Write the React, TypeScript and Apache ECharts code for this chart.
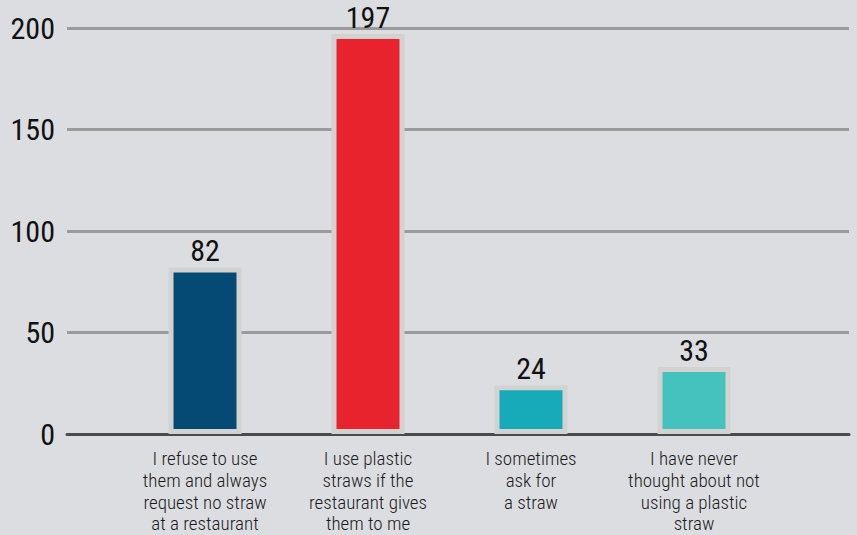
import React, { useEffect, useRef } from "react";
import * as echarts from "echarts";

const categories = [
  "I refuse to use\nthem and always\nrequest no straw\nat a restaurant",
  "I use plastic\nstraws if the\nrestaurant gives\nthem to me",
  "I sometimes\nask for\na straw",
  "I have never\nthought about not\nusing a plastic\nstraw",
];
const values = [82, 197, 24, 33];
const barColors = ["#054a74", "#e9232e", "#17aab8", "#45c1be"];
const yTicks = [0, 50, 100, 150, 200];

const FONT = "'Roboto Condensed', 'Liberation Sans Narrow', 'DejaVu Sans Condensed', Roboto, sans-serif";

export default function App() {
  const ref = useRef<HTMLDivElement>(null);
  useEffect(() => {
    if (!ref.current) return;
    const chart = echarts.init(ref.current, undefined, { renderer: "svg" });
    const yMin = yTicks[0];
    const yMax = yTicks[yTicks.length - 1];
    const yInt = yTicks[1] - yTicks[0];
    chart.setOption({
      animation: false,
      backgroundColor: "#dcdde0",
      grid: [
        { left: 67, right: 8, top: 28, bottom: 101 },
        { left: 123.5, width: 652, top: 28, bottom: 101 },
      ],
      xAxis: [
        {
          gridIndex: 0,
          type: "value",
          min: 0,
          max: 1,
          axisLine: { show: true, onZero: false, lineStyle: { color: "#4a4b4b", width: 3 } },
          axisTick: { show: false },
          axisLabel: { show: false },
          splitLine: { show: false },
        },
        {
          gridIndex: 1,
          type: "category",
          data: categories,
          axisLine: { show: false },
          axisTick: { show: false },
          axisLabel: {
            interval: 0,
            margin: 14,
            color: "#1a1a1a",
            fontFamily: FONT,
            fontWeight: 300,
            fontSize: 19,
            lineHeight: 21.7,
            align: "center",
          },
        },
      ],
      yAxis: [
        {
          gridIndex: 0,
          type: "value",
          min: yMin,
          max: yMax,
          interval: yInt,
          axisLine: { show: false },
          axisTick: { show: false },
          axisLabel: {
            margin: 12,
            color: "#111",
            fontFamily: FONT,
            fontSize: 30,
          },
          splitLine: { show: true, lineStyle: { color: "#9a9b9d", width: 3 } },
        },
        {
          gridIndex: 1,
          type: "value",
          min: yMin,
          max: yMax,
          interval: yInt,
          show: false,
          splitLine: { show: false },
        },
      ],
      series: [
        {
          type: "bar",
          xAxisIndex: 1,
          yAxisIndex: 1,
          barWidth: 73,
          z: 3,
          data: values.map((v, i) => ({
            value: v,
            itemStyle: { color: barColors[i] },
          })),
          itemStyle: { borderColor: "#d2d3d1", borderWidth: 5 },
          label: {
            show: true,
            position: "top",
            distance: 2,
            color: "#111",
            fontFamily: FONT,
            fontSize: 30,
          },
        },
      ],
    });
    return () => chart.dispose();
  }, []);
  return (
    <div
      ref={ref}
      style={{ position: "fixed", left: 0, top: 0, width: 857, height: 535 }}
    />
  );
}
